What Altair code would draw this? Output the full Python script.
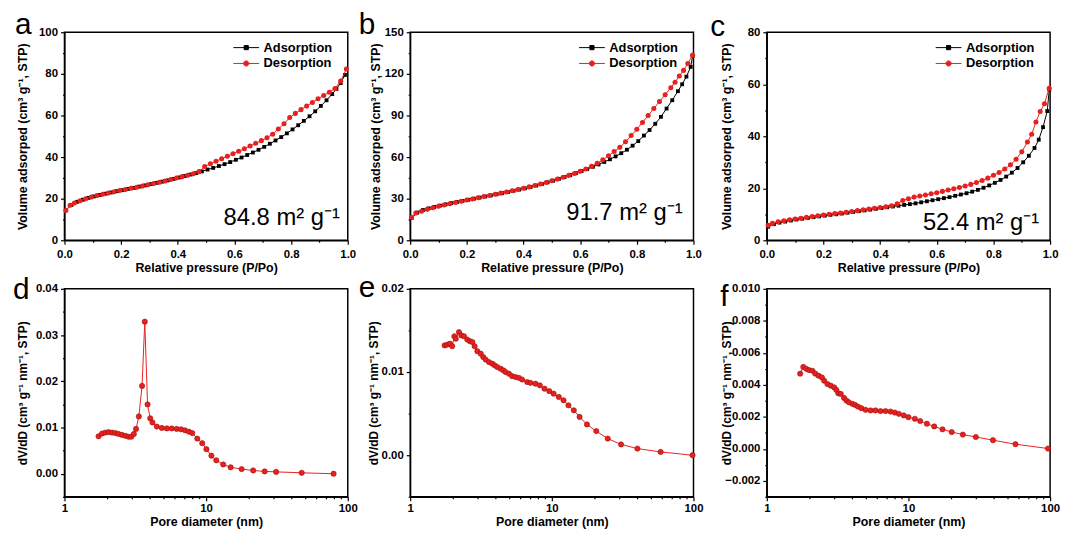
import altair as alt
import pandas as pd

FONT = "Liberation Sans"
RED = "#e8201e"
DARK_RED = "#9c1010"
SERIES = ["Adsorption", "Desorption"]
SQ_PATH = "M-2.6,0H2.6M-0.42,-0.42H0.42V0.42H-0.42Z"
CI_PATH = "M-2.6,0H2.6M-0.52,0A0.52,0.52,0,1,0,0.52,0A0.52,0.52,0,1,0,-0.52,0Z"

# ---------------- data: isotherms (P/Po, volume) ----------------
A_ADS_P = [0.005,0.025,0.045,0.065,0.085,0.105,0.125,0.145,0.165,0.185,0.205,0.225,0.245,0.265,0.285,0.305,0.325,0.345,0.365,0.385,0.405,0.425,0.445,0.465,0.485,0.505,0.525,0.545,0.565,0.585,0.605,0.625,0.645,0.665,0.685,0.705,0.725,0.745,0.765,0.785,0.805,0.825,0.845,0.865,0.885,0.905,0.925,0.945,0.96,0.975,0.99]
A_ADS_V = [14.5,17.0,18.5,19.5,20.4,21.1,21.8,22.4,23.0,23.6,24.1,24.7,25.2,25.8,26.4,27.0,27.6,28.2,28.8,29.5,30.2,30.9,31.6,32.3,33.1,34.0,34.8,35.7,36.6,37.6,38.7,39.8,41.0,42.2,43.5,44.9,46.4,48.0,49.6,51.4,53.3,55.3,57.4,59.6,62.0,64.6,67.3,70.3,72.8,75.6,79.5]
A_DES_P = [0.005,0.02,0.035,0.055,0.075,0.095,0.115,0.135,0.155,0.175,0.195,0.215,0.235,0.255,0.275,0.295,0.315,0.335,0.355,0.375,0.395,0.415,0.435,0.455,0.475,0.495,0.515,0.535,0.555,0.575,0.595,0.615,0.635,0.655,0.675,0.695,0.715,0.735,0.755,0.775,0.795,0.815,0.835,0.855,0.875,0.895,0.915,0.935,0.955,0.975,0.995]
A_DES_V = [14.3,16.8,17.9,19.0,20.0,20.8,21.5,22.1,22.7,23.3,23.9,24.4,25.0,25.5,26.1,26.7,27.3,27.9,28.5,29.2,29.9,30.6,31.3,32.0,33.0,35.5,36.8,38.0,39.2,40.4,41.6,42.8,44.0,45.3,46.6,47.9,49.3,51.0,53.5,56.0,59.0,61.0,62.8,64.5,66.2,68.0,69.6,71.2,73.0,76.5,82.3]

B_ADS_P = A_ADS_P + [0.997]
B_ADS_V = [16.0,20.0,21.8,23.0,24.0,25.0,25.9,26.8,27.6,28.4,29.2,30.0,30.8,31.6,32.4,33.2,34.0,34.8,35.7,36.6,37.5,38.5,39.5,40.6,41.8,43.0,44.3,45.6,47.0,48.4,49.9,51.4,53.0,54.7,56.5,58.4,60.5,62.8,65.3,68.2,71.5,75.5,79.5,84.0,89.0,95.0,101.0,107.5,112.5,118.0,125.0,133.0]
B_DES_P = [0.005,0.02,0.04,0.06,0.08,0.10,0.12,0.14,0.16,0.18,0.20,0.22,0.24,0.26,0.28,0.30,0.32,0.34,0.36,0.38,0.40,0.42,0.44,0.46,0.48,0.50,0.52,0.54,0.56,0.58,0.60,0.62,0.64,0.66,0.68,0.70,0.72,0.74,0.76,0.78,0.80,0.82,0.84,0.86,0.88,0.90,0.92,0.935,0.95,0.965,0.98,0.997]
B_DES_V = [16.5,19.7,21.0,22.3,23.5,24.5,25.4,26.3,27.2,28.1,29.0,29.8,30.6,31.5,32.3,33.2,34.0,34.8,35.7,36.6,37.5,38.5,39.5,40.6,41.7,42.9,44.1,45.4,46.8,48.2,49.7,51.4,53.3,55.5,58.0,61.0,64.0,67.0,71.0,75.5,80.0,85.0,90.0,95.0,100.0,105.0,110.0,114.0,118.5,122.5,127.5,133.5]

C_ADS_P = A_ADS_P + [0.997]
C_ADS_V = [5.2,6.2,6.8,7.2,7.6,8.0,8.3,8.6,8.9,9.2,9.5,9.8,10.0,10.3,10.6,10.9,11.2,11.5,11.8,12.1,12.4,12.7,13.0,13.3,13.6,13.9,14.2,14.6,15.0,15.4,15.8,16.2,16.6,17.1,17.6,18.1,18.7,19.4,20.2,21.1,22.1,23.2,24.5,26.0,27.8,30.0,32.5,35.5,38.7,43.5,49.7,58.0]
C_DES_P = B_DES_P
C_DES_V = [5.8,6.5,7.1,7.5,7.9,8.2,8.5,8.8,9.1,9.4,9.7,10.0,10.3,10.5,10.8,11.1,11.4,11.7,12.0,12.3,12.6,12.9,13.3,14.0,15.3,16.0,16.6,17.0,17.4,17.9,18.3,18.8,19.3,19.8,20.3,20.9,21.5,22.2,23.0,23.9,25.0,26.1,27.4,29.0,31.2,34.0,37.8,40.8,45.5,49.5,52.5,58.5]

# ---------------- data: pore size distributions ----------------
D_D = [1.74,1.84,1.94,2.05,2.17,2.29,2.41,2.55,2.70,2.84,2.96,3.09,3.20,3.35,3.53,3.69,3.86,4.03,4.18,4.49,4.87,5.28,5.72,6.20,6.66,7.10,7.56,7.98,8.66,9.39,10.05,10.9,11.8,13.2,14.9,17.8,21.5,25.9,31.2,47.3,79.4]
D_V = [0.0081,0.0087,0.0089,0.0090,0.0089,0.0088,0.0086,0.0084,0.0082,0.0080,0.0080,0.0086,0.0097,0.0124,0.0190,0.0329,0.0150,0.0120,0.0111,0.0102,0.0099,0.0098,0.0098,0.0097,0.0096,0.0094,0.0091,0.0088,0.0076,0.0066,0.0053,0.0039,0.0029,0.0020,0.0014,0.0010,0.0007,0.0005,0.0004,0.0002,0.0000]

E_D = [1.75,1.83,1.91,1.98,2.05,2.10,2.21,2.30,2.40,2.53,2.64,2.75,2.85,2.98,3.15,3.28,3.41,3.60,3.80,3.95,4.12,4.35,4.55,4.71,4.98,5.25,5.54,5.85,6.17,6.70,7.07,7.67,8.23,8.88,9.6,10.3,11.2,12.1,13.1,14.3,15.7,17.7,20.6,24.8,30.8,40.2,58.6,98.5]
E_V = [0.0132,0.0133,0.0134,0.0131,0.0143,0.0140,0.0148,0.0144,0.0143,0.0139,0.0137,0.0136,0.0131,0.0125,0.0122,0.0118,0.0115,0.0112,0.0110,0.0108,0.0106,0.0104,0.0102,0.0100,0.0098,0.0095,0.0094,0.0093,0.0091,0.0088,0.0087,0.0086,0.0084,0.0080,0.0077,0.0074,0.0070,0.0066,0.0060,0.0054,0.0046,0.0037,0.0029,0.0020,0.0013,0.0008,0.0004,0.0000]

F_D = [1.72,1.81,1.90,1.99,2.10,2.20,2.32,2.45,2.54,2.68,2.83,2.99,3.10,3.20,3.33,3.51,3.65,3.80,4.02,4.19,4.40,4.65,4.98,5.40,5.85,6.35,6.89,7.47,8.01,8.55,9.27,10.0,11.1,12.1,13.5,15.2,17.4,20.2,24.2,29.9,39.5,57.0,96.6]
F_V = [0.00470,0.00512,0.00500,0.00492,0.00488,0.00470,0.00457,0.00446,0.00426,0.00405,0.00395,0.00384,0.00368,0.00347,0.00343,0.00318,0.00302,0.00291,0.00281,0.00275,0.00264,0.00254,0.00244,0.00240,0.00240,0.00236,0.00236,0.00233,0.00227,0.00219,0.00209,0.00198,0.00188,0.00174,0.00157,0.00140,0.00122,0.00105,0.00089,0.00074,0.00054,0.00029,0.00002]

# ---------------- tick values ----------------
P_TICKS = [0.0,0.1,0.2,0.3,0.4,0.5,0.6,0.7,0.8,0.9,1.0]
LOG_TICKS = [1,2,3,4,5,6,7,8,9,10,20,30,40,50,60,70,80,90,100]
A_YTICKS = [0,10,20,30,40,50,60,70,80,90,100]
B_YTICKS = [0,15,30,45,60,75,90,105,120,135,150]
C_YTICKS = [0,10,20,30,40,50,60,70,80]
D_YTICKS = [-0.005,0.0,0.005,0.01,0.015,0.02,0.025,0.03,0.035,0.04]
E_YTICKS = [-0.005,0.0,0.005,0.01,0.015,0.02]
F_YTICKS = [-0.003,-0.002,-0.001,0.0,0.001,0.002,0.003,0.004,0.005,0.006,0.007,0.008,0.009,0.010]

ISO_TITLE = "Volume adsorped (cm³ g⁻¹, STP)"
PSD_TITLE = "dV/dD (cm³ g⁻¹ nm⁻¹, STP)"
W, H = 286, 210


def axis(values, fmt, major, title, orient, title_pos, title_size, label_pad):
    kw = dict(values=values, format=fmt,
              labelExpr="(" + major + ") ? datum.label : ''",
              tickSize={"condition": {"test": major, "value": 4}, "value": 2},
              title=title, titleFontSize=title_size, labelPadding=label_pad,
              titleBaseline="middle", titleAlign="center")
    if orient == "y":
        kw.update(titleX=title_pos, titleY=H / 2, titleAngle=270)
    else:
        kw.update(titleX=W / 2, titleY=title_pos)
    return alt.Axis(**kw)


def letter_layer(letter, dx, dy, size=30):
    return alt.Chart(pd.DataFrame({"t": [letter]})).mark_text(
        align="left", baseline="alphabetic", fontSize=size, font=FONT, color="black"
    ).encode(text="t:N", x=alt.value(dx), y=alt.value(dy))


def iso_panel(ads_p, ads_v, des_p, des_v, ymax, yticks, ymajor, letter, ldx, ldy,
              ytx, ann, ann_x, ann_y):
    df_a = pd.DataFrame({"P": ads_p, "V": ads_v, "series": "Adsorption"})
    df_d = pd.DataFrame({"P": des_p, "V": des_v, "series": "Desorption"})
    x = alt.X("P:Q", scale=alt.Scale(domain=[0, 1], nice=False, zero=False),
              axis=axis(P_TICKS, ".1f", "round(datum.value*10) % 2 === 0",
                        "Relative pressure (P/Po)", "x", 28, 12.5, 4))
    y = alt.Y("V:Q", scale=alt.Scale(domain=[0, ymax], nice=False),
              axis=axis(yticks, "d", ymajor, ISO_TITLE, "y", ytx, 12.5, 3))
    ads_line = alt.Chart(df_a).mark_line(color="black", strokeWidth=1).encode(x=x, y=y)
    ads_pts = alt.Chart(df_a).mark_point(shape="square", filled=True, size=15,
                                         color="black", opacity=1).encode(x=x, y=y)
    des_line = alt.Chart(df_d).mark_line(color=RED, strokeWidth=1).encode(x=x, y=y)
    des_pts = alt.Chart(df_d).mark_point(shape="circle", filled=True, size=26,
                                         color=RED, opacity=1).encode(x=x, y=y)
    leg = alt.Legend(orient="none", legendX=177, legendY=9, title=None,
                     labelFont=FONT, labelFontSize=13, labelFontWeight="bold",
                     labelColor="black", symbolSize=100, symbolStrokeWidth=1,
                     labelOffset=11, rowPadding=2, padding=0)
    legend_layer = alt.Chart(df_a).transform_filter("false").mark_point(
        filled=True, opacity=1, strokeWidth=1
    ).encode(
        fill=alt.Fill("series:N", scale=alt.Scale(domain=SERIES, range=["black", RED]), legend=leg),
        stroke=alt.Stroke("series:N", scale=alt.Scale(domain=SERIES, range=["black", RED]), legend=leg),
        shape=alt.Shape("series:N", scale=alt.Scale(domain=SERIES, range=[SQ_PATH, CI_PATH]), legend=leg),
    )
    ann_layer = alt.Chart(pd.DataFrame({"t": [ann]})).mark_text(
        align="right", baseline="alphabetic", fontSize=24, font=FONT, color="black"
    ).encode(text="t:N", x=alt.value(ann_x), y=alt.value(ann_y))
    return alt.layer(ads_line, ads_pts, des_line, des_pts, legend_layer,
                     letter_layer(letter, ldx, ldy), ann_layer).properties(width=W, height=H)


def psd_panel(dd, vv, ymin, ymax, yticks, fmt, ymajor, letter, ldx, ldy, ytx):
    df = pd.DataFrame({"D": dd, "V": vv})
    x = alt.X("D:Q", scale=alt.Scale(type="log", domain=[1, 100], nice=False),
              axis=axis(LOG_TICKS, "d", "indexof([1,10,100], datum.value) >= 0",
                        "Pore diameter (nm)", "x", 25, 12.5, 2))
    y = alt.Y("V:Q", scale=alt.Scale(domain=[ymin, ymax], nice=False, zero=False),
              axis=axis(yticks, fmt, ymajor, PSD_TITLE, "y", ytx, 12, 3))
    line = alt.Chart(df).mark_line(color=RED, strokeWidth=1).encode(x=x, y=y)
    pts = alt.Chart(df).mark_point(shape="circle", filled=True, size=28, fill=RED,
                                   stroke=DARK_RED, strokeWidth=0.6, opacity=1).encode(x=x, y=y)
    return alt.layer(line, pts, letter_layer(letter, ldx, ldy)).properties(width=W, height=H)


def spacer(w):
    return alt.Chart(pd.DataFrame({"v": [0]})).mark_point(opacity=0).encode(
        x=alt.X("v:Q", axis=None), y=alt.Y("v:Q", axis=None)
    ).properties(width=w, height=H, view=alt.ViewBackground(stroke="transparent"))


pa = iso_panel(A_ADS_P, A_ADS_V, A_DES_P, A_DES_V, 100, A_YTICKS, "datum.value % 20 === 0",
               "a", -50, 2, -42, "84.8 m² g⁻¹", 278, 195)
pb = iso_panel(B_ADS_P, B_ADS_V, B_DES_P, B_DES_V, 150, B_YTICKS, "datum.value % 30 === 0",
               "b", -52, 2, -35, "91.7 m² g⁻¹", 275, 190)
pc = iso_panel(C_ADS_P, C_ADS_V, C_DES_P, C_DES_V, 80, C_YTICKS, "datum.value % 20 === 0",
               "c", -57, 4, -41, "52.4 m² g⁻¹", 275, 200)
pd_ = psd_panel(D_D, D_V, -0.005, 0.04, D_YTICKS, ".2f",
                "abs(round(datum.value*1000)) % 10 === 0", "d", -52, 10, -42)
pe = psd_panel(E_D, E_V, -0.005, 0.02, E_YTICKS, ".2f",
               "abs(round(datum.value*1000)) % 10 === 0", "e", -52, 8, -37)
pf = psd_panel(F_D, F_V, -0.003, 0.010, F_YTICKS, ".3f",
               "abs(round(datum.value*1000)) % 2 === 0", "f", -47, 17, -41)

chart = alt.concat(
    pa, spacer(63), pb, spacer(74), pc,
    pd_, spacer(63), pe, spacer(74), pf,
    columns=5, spacing={"row": 49, "column": 0}, bounds="flush",
).resolve_scale(
    fill="independent", stroke="independent", shape="independent"
).properties(
    padding={"left": 4, "top": -1, "right": 0, "bottom": 0}, background="white"
).configure_view(
    stroke="black", strokeWidth=1.5
).configure_axis(
    labelFont=FONT, titleFont=FONT, labelColor="black", titleColor="black",
    domainColor="black", tickColor="black", domainWidth=1.3, tickWidth=1.2,
    grid=False, labelFontWeight="bold", titleFontWeight="bold", labelFontSize=11.5,
    labelOverlap=False, labelFlush=False,
).configure_text(font=FONT)

chart.save("out.html", embed_options={"renderer": "svg", "actions": False})
